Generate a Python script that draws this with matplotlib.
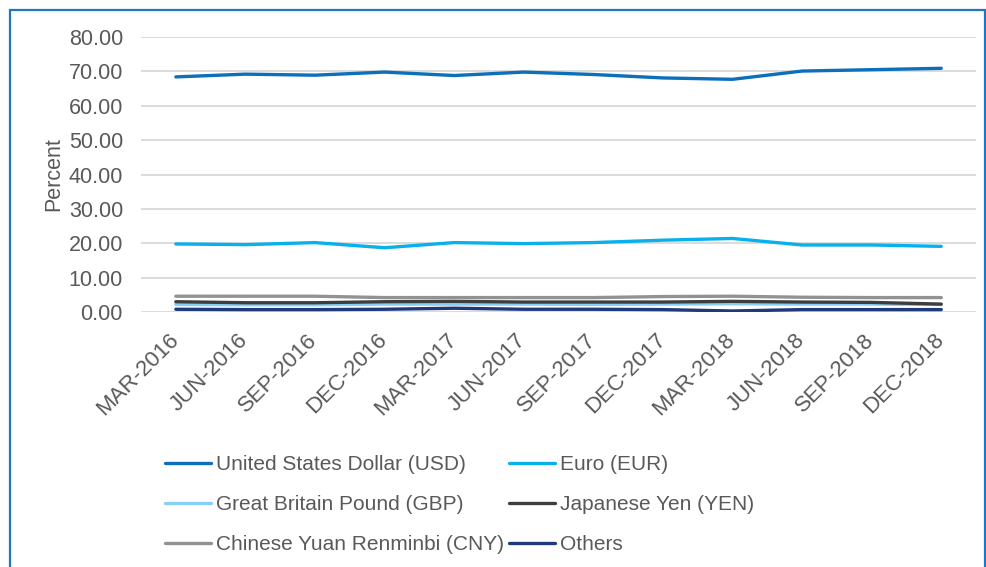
import matplotlib.pyplot as plt
from matplotlib.patches import Rectangle
from matplotlib.transforms import ScaledTranslation

# Quarter labels
quarters = ['MAR-2016', 'JUN-2016', 'SEP-2016', 'DEC-2016',
            'MAR-2017', 'JUN-2017', 'SEP-2017', 'DEC-2017',
            'MAR-2018', 'JUN-2018', 'SEP-2018', 'DEC-2018']

# Currency shares (percent)
usd = [68.4, 69.2, 68.9, 69.8, 68.8, 69.8, 69.1, 68.1, 67.7, 70.1, 70.5, 70.9]
eur = [19.8, 19.6, 20.2, 18.7, 20.2, 19.9, 20.2, 20.9, 21.4, 19.5, 19.5, 19.1]
gbp = [2.2, 2.1, 2.1, 2.3, 2.3, 2.3, 2.2, 2.3, 2.4, 2.3, 2.3, 2.2]
yen = [3.0, 2.7, 2.7, 3.0, 3.1, 2.9, 2.9, 2.9, 3.1, 2.9, 2.8, 2.3]
cny = [4.6, 4.6, 4.6, 4.2, 4.2, 4.2, 4.2, 4.5, 4.6, 4.3, 4.2, 4.2]
others = [0.8, 0.7, 0.7, 0.8, 1.1, 0.8, 0.8, 0.7, 0.3, 0.7, 0.7, 0.7]

series = [
    ('United States Dollar (USD)', usd, '#0B6FBA'),
    ('Euro (EUR)', eur, '#08B0EC'),
    ('Great Britain Pound (GBP)', gbp, '#86D0F5'),
    ('Japanese Yen (YEN)', yen, '#3E3E3E'),
    ('Chinese Yuan Renminbi (CNY)', cny, '#929292'),
    ('Others', others, '#1E3A7B'),
]

plt.rcParams['font.family'] = ['Liberation Sans', 'DejaVu Sans']
text_color = '#595959'

fig = plt.figure(figsize=(9.87, 5.67), dpi=100)
ax = fig.add_axes([0.1429, 0.4497, 0.846, 0.485])

x = list(range(len(quarters)))
lines = []
for name, vals, col in series:
    ln, = ax.plot(x, vals, color=col, linewidth=2.4, label=name, solid_capstyle='round')
    lines.append(ln)

ax.set_xlim(-0.5, len(quarters) - 0.5)
ax.set_ylim(0, 80)
ax.set_yticks(range(0, 81, 10))
ax.set_yticklabels(['%.2f' % v for v in range(0, 81, 10)])
ax.set_xticks(x)
ax.set_xticklabels(quarters, rotation=45, ha='right', rotation_mode='anchor')

ax.grid(axis='y', color='#D9D9D9', linewidth=1.3)
ax.set_axisbelow(True)
for s in ax.spines.values():
    s.set_visible(False)
ax.tick_params(axis='y', length=0, labelsize=15.5, labelcolor=text_color, pad=13)
ax.tick_params(axis='x', length=0, labelsize=16, labelcolor=text_color, pad=6)
ax.set_ylabel('Percent', fontsize=15.5, color=text_color, labelpad=3)

# nudge rotated labels down/left like the original
shift = ScaledTranslation(-8 / 100, -9 / 100, fig.dpi_scale_trans)
for lbl in ax.get_xticklabels():
    lbl.set_transform(lbl.get_transform() + shift)

# matplotlib fills legend columns first, so reorder to get row-wise layout
order = [0, 2, 4, 1, 3, 5]
leg = fig.legend([lines[i] for i in order], [series[i][0] for i in order],
                 loc='upper left', bbox_to_anchor=(0.167, 0.197), ncol=2,
                 frameon=False, fontsize=15, handlelength=2.2,
                 handletextpad=0.25, columnspacing=0.25, labelspacing=1.0,
                 borderaxespad=0, borderpad=0)
for t in leg.get_texts():
    t.set_color(text_color)

# outer blue frame
fig.patches.append(Rectangle((10 / 987, -0.1), 975 / 987, 1.1 - 10 / 567,
                             transform=fig.transFigure, fill=False,
                             edgecolor='#1F77C4', linewidth=1.6))

fig.savefig('out.png', dpi=100)
